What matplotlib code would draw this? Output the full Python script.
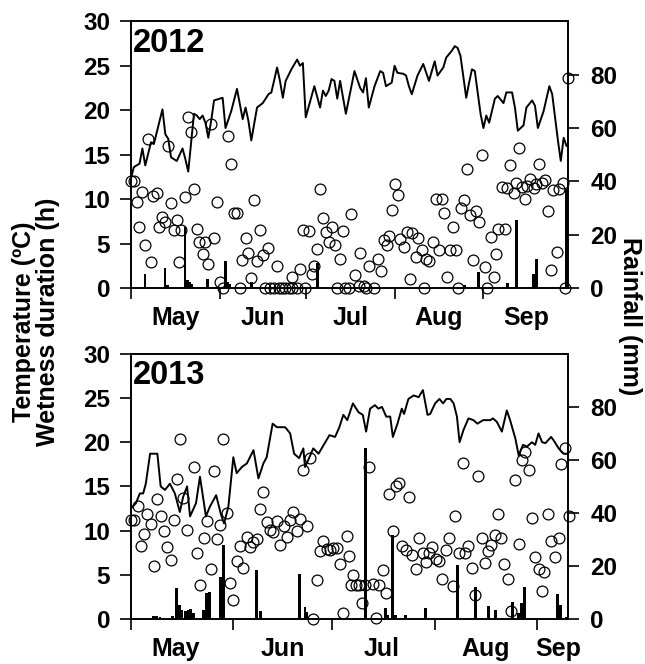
import matplotlib
matplotlib.use("Agg")
import matplotlib.pyplot as plt
import numpy as np

# ---------------- data (days counted from 1 May) ----------------
MONTH_STARTS = [0, 31, 61, 92, 123]
MONTH_NAMES = ["May", "Jun", "Jul", "Aug", "Sep"]
LABEL_POS_2012 = [15.5, 46, 76.5, 107.5, 138]
LABEL_POS_2013 = [13.5, 46, 76, 107.5, 129.5]

temp12_day = [0, 1, 3, 4, 5, 7, 8, 11, 12, 13, 14, 16, 18, 19, 20, 22, 23, 24, 25, 26,
              27, 28, 29, 32, 33, 35, 37, 39, 40, 41, 42, 44, 46, 48, 49, 51, 52, 53, 54, 56,
              58, 59, 60, 61, 64, 66, 67, 68, 69, 70, 71, 72, 73, 75, 78, 80, 81, 82, 83, 85,
              87, 88, 89, 91, 92, 93, 95, 96, 97, 98, 100, 102, 104, 106, 107, 109, 110, 112, 113, 114,
              115, 117, 118, 119, 120, 122, 123, 124, 125, 127, 128, 130, 131, 133, 134, 135, 137, 138, 140, 141,
              142, 144, 146, 147, 149, 150, 151, 152]
temp12 = [12.3, 13.6, 14.0, 15.7, 13.8, 16.4, 16.2, 20.1, 17.3, 16.8, 14.7, 14.3, 15.7, 14.5, 13.1, 19.6, 19.4, 19.0, 19.4, 18.6,
          16.9, 18.8, 21.1, 21.4, 18.0, 19.9, 22.4, 19.0, 20.3, 18.8, 16.6, 20.3, 20.8, 21.8, 22.0, 24.8, 23.3, 21.4, 23.3, 24.6,
          25.7, 25.0, 25.3, 19.2, 22.7, 20.3, 22.2, 21.6, 22.2, 23.5, 23.3, 21.3, 23.3, 19.6, 24.4, 22.5, 22.0, 23.6, 20.3, 22.7,
          24.4, 24.2, 22.7, 23.1, 25.0, 24.2, 24.1, 23.9, 22.7, 21.8, 23.9, 25.2, 23.3, 25.5, 23.9, 24.8, 25.9, 26.7, 27.2, 27.0,
          26.1, 21.4, 23.1, 24.6, 24.4, 19.6, 18.0, 19.4, 18.6, 21.3, 21.6, 20.8, 22.0, 22.0, 20.3, 17.7, 18.3, 20.3, 21.1, 20.5,
          18.0, 19.9, 22.7, 21.8, 16.6, 14.3, 16.9, 16.0]

wet12_day = [0, 1.2, 2, 2.8, 4, 4.9, 5.8, 7, 7.8, 9, 9.8, 10.9, 11.9, 12.8, 14, 15, 16, 16.9, 17.5, 18.9,
             19.8, 21, 21.9, 23, 23.8, 25, 25.9, 27, 28, 29.1, 30, 31.1, 32.3, 34, 35, 36.1, 37.1, 38.1, 38.9, 40.1,
             41, 42, 43, 44, 44.9, 46, 46.9, 48, 48.6, 49.8, 50.9, 51.5, 52.7, 53.8, 55, 56.2, 56.2, 57.9, 59.1, 60.2,
             60.8, 62, 63.2, 64, 65.1, 66.1, 66.9, 68.1, 69, 70.2, 71.1, 71.9, 73.1, 73.9, 74.8, 76, 76.9, 78.1, 79.5, 80,
             81.2, 82.1, 83.2, 84.7, 86.1, 87.1, 88.2, 89.4, 90.2, 91.1, 92.1, 93.1, 94, 95.2, 96.2, 97.3, 98.1, 99.3, 100.2, 101.4,
             102.4, 102.8, 104, 105.4, 106.3, 107.5, 108.4, 109.4, 110.4, 111.2, 112.3, 113.3, 114.3, 115.2, 116.2, 117.4, 118.2, 119.3, 120.5, 121.4,
             122.4, 123.5, 124.4, 125.5, 126.7, 127.5, 128.2, 129.4, 130.5, 131.4, 132.3, 133.5, 134.3, 135.4, 136.3, 137.4, 138.1, 139.3, 140.5, 141.3,
             142.4, 143.4, 144.4, 145.6, 146.5, 147.4, 148.6, 149.4, 150.6, 151.5, 152.4]
wet12 = [12.0, 12.0, 9.7, 6.9, 10.8, 4.9, 16.8, 2.9, 10.4, 10.7, 6.9, 8.0, 7.4, 16.0, 9.6, 6.5, 7.7, 2.9, 6.5, 10.2,
         19.2, 17.6, 11.1, 6.7, 5.2, 3.8, 5.2, 2.7, 18.5, 5.6, 9.7, 0.7, 0.0, 17.1, 14.0, 8.4, 8.4, 0.0, 3.2, 5.6,
         4.0, 1.1, 9.9, 3.1, 6.5, 3.7, 0.0, 4.5, 0.0, 0.0, 2.5, 0.0, 0.0, 0.0, 0.0, 1.3, 0.0, 0.0, 2.1, 6.5,
         0.0, 6.4, 1.6, 2.5, 4.4, 11.2, 7.9, 6.3, 5.2, 6.9, 4.9, 0.0, 3.3, 6.4, 0.0, 0.0, 8.3, 1.5, 0.3, 4.0,
         0.3, 0.0, 2.5, 0.0, 3.3, 1.9, 5.4, 4.8, 5.9, 8.8, 11.7, 10.5, 5.5, 4.6, 6.3, 1.0, 6.2, 3.5, 5.6, 4.3,
         0.0, 3.3, 3.1, 5.2, 10.0, 4.3, 10.0, 8.4, 1.2, 4.3, 6.9, 4.3, 0.0, 9.0, 9.9, 13.4, 8.2, 3.2, 8.7, 7.4,
         15.0, 2.4, 0.0, 5.7, 1.3, 3.8, 6.6, 11.4, 6.6, 11.3, 13.8, 10.7, 11.8, 15.8, 11.4, 10.0, 11.5, 12.3, 11.3, 11.7,
         14.0, 11.8, 12.2, 8.7, 2.0, 11.0, 4.1, 11.2, 11.8, 0.0, 23.6]

rain12_day = [4.9, 11.9, 12.8, 18.9, 19.8, 20.6, 21.3, 26.8, 32.9, 33.6, 34.3, 42, 65.1,
              116.4, 121.2, 131.4, 134.5, 140.4, 141.5, 152]
rain12 = [5.2, 7.4, 1.1, 22.9, 3.2, 2.4, 1.7, 3.4, 10.1, 2.4, 1.6, 2.2, 9.6,
          1.1, 6.1, 1.9, 25.4, 5.2, 11.1, 37.2]

temp13_day = [0, 1.5, 2.7, 3.7, 4.5, 5.8, 8, 9, 10.3, 11.8, 13.3, 14.8, 15.8, 17, 17.9, 19.7, 20.9, 22.7, 23.9, 25.8,
              27.2, 28.2, 29.5, 31, 32, 33.6, 35.1, 37.1, 38.6, 40.1, 41.1, 42.9, 44.2, 46.7, 48.2, 49.4, 50.9, 52.2, 52.7, 53.7,
              55.2, 56.8, 60.1, 61.8, 63.1, 64.3, 65.5, 67.2, 68.9, 70.2, 71.2, 72.4, 73.9, 74.9, 76, 77.3, 78.5, 79.3, 80.7, 82,
              82.7, 84, 85.6, 87.1, 88.4, 89.8, 90.6, 92.1, 93.4, 94.5, 95.5, 96.7, 97.7, 98.7, 99.5, 100.7, 102.2, 103.7, 104.9, 106.6,
              108.8, 109.6, 110.8, 112.3, 113.8, 114.8, 116.4, 117.4, 118.7, 119.9, 121.4, 122.4, 123.4, 124.5, 125.5, 127.2, 128, 129.5, 131, 132]
temp13 = [12.5, 13.1, 14.2, 14.2, 15.3, 18.7, 18.7, 15.0, 14.6, 15.3, 14.2, 12.1, 13.8, 15.0, 11.6, 13.1, 16.1, 11.6, 12.7, 14.0,
          11.9, 10.8, 12.7, 18.3, 16.5, 17.2, 17.6, 19.1, 15.9, 17.6, 18.3, 22.1, 21.7, 21.7, 21.0, 18.7, 18.2, 19.3, 17.2, 18.0,
          19.3, 18.7, 20.8, 20.6, 21.7, 23.1, 22.5, 24.4, 23.4, 23.1, 21.2, 23.8, 24.2, 23.8, 24.0, 22.9, 22.9, 20.6, 22.1, 23.8,
          23.2, 24.9, 25.3, 25.1, 25.9, 23.1, 23.2, 24.4, 24.9, 24.4, 24.9, 24.9, 24.4, 22.9, 20.0, 21.4, 22.7, 22.5, 22.1, 22.5,
          22.5, 22.7, 22.3, 21.2, 23.6, 22.5, 20.4, 18.5, 19.7, 19.5, 20.0, 19.7, 21.0, 20.0, 19.9, 20.6, 20.2, 19.3, 18.7, 18.7]

wet13_day = [0, 1, 2, 3, 4, 5, 6.1, 7, 8, 9, 10, 11, 12, 13, 14, 15, 15.9, 17.1, 19.1, 19.9,
             20.9, 22.1, 23, 24.1, 25, 26, 27, 28, 29, 30, 31, 32, 33, 34, 35, 36, 37, 38.1, 39.1, 40.1,
             41.1, 42.1, 43.1, 44.2, 45.2, 46.2, 47.2, 48.2, 49.2, 50.2, 51.2, 52.2, 53.2, 54.2, 55.2, 56.3, 57.3, 58.3, 59.3, 60.3,
             61.3, 62.3, 63.3, 64.3, 65.4, 65.9, 66.5, 67.2, 68.2, 69.2, 69.9, 70.9, 72.2, 73.2, 74.2, 75.2, 76.2, 77.2, 78.2, 79.2,
             80.2, 81.2, 82.2, 83.2, 84.2, 85.2, 86.3, 87.3, 88.3, 89.3, 90.3, 91.3, 92.3, 93.3, 94.3, 95.4, 96.4, 97.4, 98.2, 99.2,
             100.4, 101.2, 102.2, 103.4, 104.2, 105.2, 106.3, 107.1, 108.1, 109.1, 110.1, 111.1, 112.1, 113.1, 114.3, 115.2, 116.2, 117.4, 118.4, 119.4,
             120.4, 121.4, 122.4, 123.4, 124.5, 125.2, 126.3, 127.3, 128.3, 129.5, 130.3, 131.5, 132.5]
wet13 = [11.2, 11.2, 12.8, 8.2, 9.6, 11.9, 10.7, 6.0, 13.6, 11.7, 9.9, 8.1, 6.7, 11.2, 15.8, 20.4, 13.7, 10.1, 17.2, 7.5,
         3.8, 9.1, 11.1, 5.6, 16.7, 9.0, 10.6, 20.4, 12.0, 4.1, 2.1, 6.6, 8.3, 5.8, 9.3, 8.1, 8.7, 9.0, 12.4, 14.4,
         11.0, 10.1, 9.8, 11.1, 8.4, 10.5, 9.3, 11.2, 12.1, 9.9, 11.3, 16.8, 10.5, 18.2, 0.0, 4.4, 7.7, 8.8, 7.9, 7.8,
         8.0, 8.0, 6.2, 0.7, 9.4, 7.1, 3.8, 5.0, 3.8, 3.8, 1.8, 3.8, 17.2, 4.0, 0.1, 3.8, 5.5, 2.9, 14.1, 9.9,
         15.0, 15.4, 8.2, 7.8, 13.8, 7.2, 5.7, 9.2, 7.5, 6.4, 7.5, 8.1, 6.8, 6.6, 4.5, 7.8, 9.1, 3.7, 11.6, 7.4,
         17.6, 7.4, 8.3, 5.8, 2.7, 16.2, 9.2, 6.3, 7.7, 8.4, 9.5, 11.9, 9.2, 6.2, 4.5, 0.9, 15.7, 8.5, 18.0, 18.9,
         16.8, 11.4, 7.0, 5.6, 3.2, 5.3, 11.9, 8.8, 7.0, 9.1, 17.5, 19.3, 11.6]

rain13_day = [6.8, 7.8, 8.8, 12.6, 13.8, 14.6, 15.4, 16.4, 17.4, 18.1, 18.9, 21.9, 22.9, 23.9, 27, 28,
              37.9, 39.1, 51, 52.7, 53.3, 70.9, 77, 77.8, 79.2, 80, 83, 89.1, 99, 104.2,
              108.3, 110.3, 115.4, 117.4, 118.2, 119.2, 129.2, 130.2, 131.8]
rain13 = [1.2, 0.9, 0.7, 0.9, 11.6, 5.3, 3.4, 2.8, 3.4, 3.7, 2.1, 3.4, 9.7, 10.3, 15.9, 27.9,
          18.5, 3.1, 16.8, 4.6, 2.6, 64.3, 4.0, 1.5, 31.6, 1.5, 1.5, 4.2, 20.3, 12.2,
          4.9, 3.4, 6.4, 2.1, 5.8, 12.2, 9.3, 5.3, 0.8]

plt.rcParams["font.family"] = ["Liberation Sans", "DejaVu Sans"]
plt.rcParams["font.weight"] = "bold"


def draw_panel(fig, rect, year, tday, temp, wday, wet, rday, rain, xmax, label_pos):
    ax = fig.add_axes(rect)
    ax2 = ax.twinx()
    # keep the rain bars behind the temperature line and circles
    ax.set_zorder(ax2.get_zorder() + 1)
    ax.patch.set_visible(False)

    ax2.bar(rday, rain, width=0.9, color="black", linewidth=0)
    ax.plot(tday, temp, color="black", linewidth=1.4)
    ax.plot(wday, wet, "o", mfc="none", mec="black", ms=7.8, mew=0.9, clip_on=False)

    ax.set_xlim(0, xmax)
    ax.set_ylim(0, 30)
    ax2.set_ylim(0, 100)
    ax.set_yticks(range(0, 31, 5))
    ax2.set_yticks(range(0, 81, 20))

    ax.set_xticks(MONTH_STARTS)
    ax.set_xticklabels([""] * len(MONTH_STARTS))
    ax.set_xticks(label_pos, minor=True)
    ax.set_xticklabels(MONTH_NAMES, minor=True)
    ax.tick_params(axis="x", which="major", direction="out", length=8, width=1.2)
    ax.tick_params(axis="x", which="minor", length=0, pad=13, labelsize=18)
    ax.tick_params(axis="y", direction="out", length=8, width=1.2, pad=7, labelsize=17.5)
    ax2.tick_params(axis="y", direction="out", length=8, width=1.2, pad=8, labelsize=17.5)
    for a in (ax, ax2):
        for s in a.spines.values():
            s.set_linewidth(1.2)

    ax.text(0.005, 0.885, year, transform=ax.transAxes, fontsize=23.5,
            fontweight="bold", ha="left", va="baseline")
    return ax


fig = plt.figure(figsize=(6.45, 6.64), dpi=100)
draw_panel(fig, [0.203, 0.566, 0.678, 0.402], "2012", temp12_day, temp12,
           wet12_day, wet12, rain12_day, rain12, 152.6, LABEL_POS_2012)
draw_panel(fig, [0.203, 0.068, 0.678, 0.399], "2013", temp13_day, temp13,
           wet13_day, wet13, rain13_day, rain13, 132.4, LABEL_POS_2013)

fig.text(0.056, 0.515, "Temperature (ºC)\nWetness duration (h)", rotation=90,
         ha="center", va="center", fontsize=18, fontweight="bold", linespacing=1.0)
fig.text(0.977, 0.524, "Rainfall (mm)", rotation=270, ha="center", va="center",
         fontsize=18, fontweight="bold")

fig.savefig("out.png", dpi=100)
